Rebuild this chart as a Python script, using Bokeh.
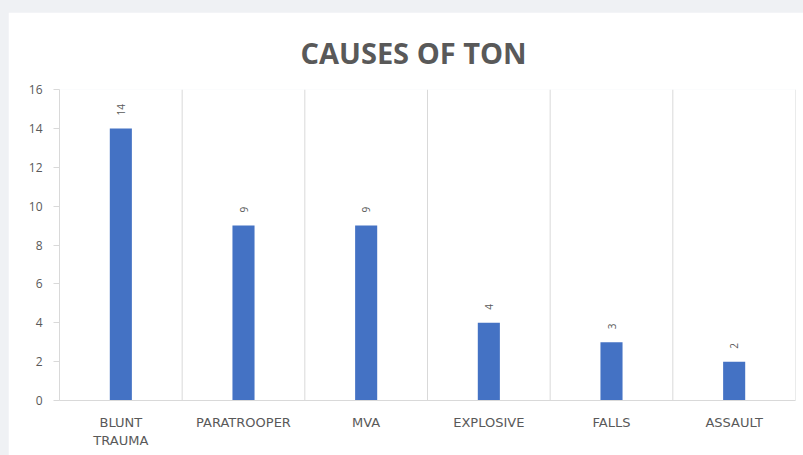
import math
from bokeh.plotting import figure
from bokeh.models import ColumnDataSource, Span, Title
from bokeh.layouts import column
from bokeh.core.properties import value
from bokeh.embed import file_html
from bokeh.resources import INLINE

categories = ["BLUNT\nTRAUMA", "PARATROOPER", "MVA", "EXPLOSIVE", "FALLS", "ASSAULT"]
counts = [14, 9, 9, 4, 3, 2]
y_ticks = [0, 2, 4, 6, 8, 10, 12, 14, 16]
title_text = "CAUSES OF TON"

src = ColumnDataSource(data=dict(cat=categories, val=counts, lab=[str(v) for v in counts]))

p = figure(x_range=categories, y_range=(0, 16), width=795, height=443,
           output_backend="svg", toolbar_location=None,
           min_border_left=51, min_border_right=8, min_border_top=77, min_border_bottom=55)
p.margin = (12, 0, 0, 8)
p.title = Title(text=title_text, align="left", offset=241, text_font="Open Sans",
                text_font_size="29px", text_font_style="bold", text_color="#595959",
                standoff=36)
p.background_fill_color = "white"
p.border_fill_color = "white"
p.outline_line_color = None

p.vbar(x="cat", top="val", width=0.18, source=src, fill_color="#4472c4", line_color=None)
p.text(x="cat", y="val", text="lab", source=src, angle=math.pi / 2, text_align="left",
       text_baseline="middle", y_offset=-13, text_font=value("Open Sans"),
       text_font_size="10px", text_color="#595959")

for i in range(1, len(categories) + 1):
    p.add_layout(Span(location=i, dimension="height", line_color="#d9d9d9", line_width=1))

p.xgrid.grid_line_color = None
p.ygrid.grid_line_color = None

p.yaxis.ticker = y_ticks
p.yaxis.axis_line_color = "#d9d9d9"
p.yaxis.major_tick_line_color = "#d9d9d9"
p.yaxis.major_tick_out = 6
p.yaxis.major_tick_in = 0
p.yaxis.minor_tick_line_color = None
p.yaxis.major_label_text_font = "Open Sans"
p.yaxis.major_label_text_font_size = "12px"
p.yaxis.major_label_text_color = "#595959"
p.yaxis.major_label_standoff = 11

p.xaxis.axis_line_color = "#d9d9d9"
p.xaxis.major_tick_line_color = None
p.xaxis.minor_tick_line_color = None
p.xaxis.major_label_text_font = "DejaVu Sans"
p.xaxis.major_label_text_font_size = "13px"
p.xaxis.major_label_text_color = "#595959"
p.xaxis.major_label_standoff = 8

layout = column(p, styles={"background-color": "#eff1f4"})

open("out.html", "w").write(file_html(layout, INLINE))
